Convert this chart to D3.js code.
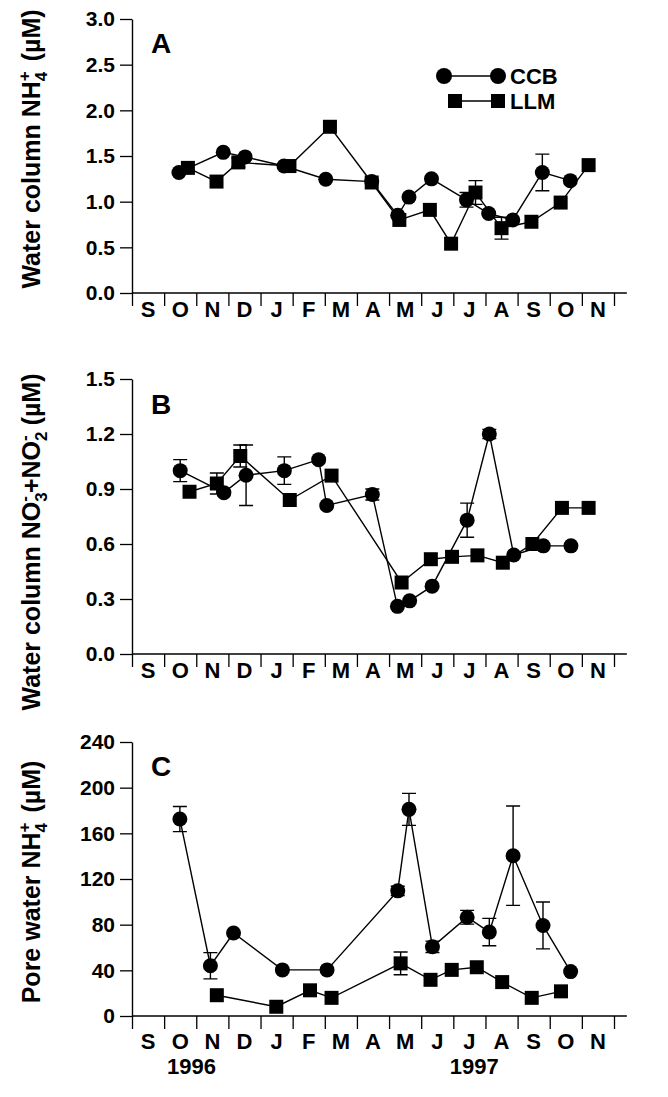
<!DOCTYPE html>
<html><head><meta charset="utf-8">
<script src="https://cdn.jsdelivr.net/npm/d3@7"></script>
<style>
body{margin:0;background:#fff}
svg text{font-family:"Liberation Sans",Arial,sans-serif;font-weight:bold;fill:#000}
</style>
</head><body>
<svg id="c" width="668" height="1097"></svg>
<script>
// ---------- DATA (x in months since 1 Sep 1996, value, optional error) ----------
const months = ["S","O","N","D","J","F","M","A","M","J","J","A","S","O","N"];
const yearLabels = ["1996","1997"];
const yearMonthPos = [1.85, 10.65];
const seriesNames = ["CCB","LLM"];

const aTicks = [0,0.5,1.0,1.5,2.0,2.5,3.0];
const bTicks = [0,0.3,0.6,0.9,1.2,1.5];
const cTicks = [0,40,80,120,160,200,240];

const aCCB = [[1.46,1.32],[2.84,1.54],[3.52,1.49],[4.73,1.39],[6.03,1.245],[7.46,1.22],[8.27,0.85],[8.62,1.05],[9.32,1.25],[10.41,1.02,0.08],[11.10,0.87],[11.85,0.80],[12.77,1.32,0.20],[13.64,1.23]];
const aLLM = [[1.74,1.37],[2.63,1.22],[3.31,1.43,0.05],[4.90,1.39],[6.16,1.82],[7.46,1.21],[8.32,0.80],[9.27,0.91],[9.93,0.54],[10.69,1.10,0.13],[11.50,0.71,0.12],[12.43,0.78],[13.34,0.99],[14.21,1.40]];

const bCCB = [[1.50,1.00,0.06],[2.86,0.88],[3.55,0.975,0.165],[4.74,1.00,0.075],[5.81,1.06],[6.06,0.81],[7.48,0.87,0.03],[8.26,0.26],[8.64,0.29],[9.34,0.37],[10.43,0.73,0.093],[11.12,1.20,0.025],[11.88,0.54],[12.80,0.59],[13.66,0.59]];
const bLLM = [[1.79,0.885],[2.64,0.93,0.057],[3.37,1.08,0.06],[4.91,0.84],[6.21,0.973],[8.39,0.39],[9.30,0.517],[9.96,0.53],[10.75,0.538],[11.54,0.498],[12.46,0.60],[13.38,0.797],[14.21,0.797]];

const cCCB = [[1.49,172.5,11],[2.44,44,11.5],[3.16,72.7],[4.68,40.4],[6.07,40.4],[8.27,109.6,4],[8.62,181,14],[9.35,60.6,5],[10.43,86.5,6],[11.12,73.5,12],[11.86,140.4,43.5],[12.79,79.3,20.5],[13.65,38.9]];
const cLLM = [[2.64,18.2],[4.49,8.1],[5.54,22.5],[6.21,15.9],[8.36,46.1,10],[9.29,31.7],[9.95,40.4],[10.73,42.7],[11.52,29.7],[12.44,15.9],[13.35,21.6]];

const aTitle = [["Water column NH","n"],["4","sub"],["+","sup"],[" (\u00B5M)","n"]];
const bTitle = [["Water column NO","n"],["3","sub"],["-","sup"],["+NO","n"],["2","sub"],["-","sup"],[" (\u00B5M)","n"]];
const cTitle = [["Pore water NH","n"],["4","sub"],["+","sup"],[" (\u00B5M)","n"]];

// ---------- LAYOUT ----------
const svg = d3.select("#c");
const x = d3.scaleLinear().domain([0,15]).range([132,614]);
const panels = [
  {ccb:aCCB, llm:aLLM, ticks:aTicks, fmt:d3.format(".1f"), domain:[0,3],   range:[293,19],  letter:"A", letterY:53,  title:aTitle, titleY:149, labOff:24, legend:true},
  {ccb:bCCB, llm:bLLM, ticks:bTicks, fmt:d3.format(".1f"), domain:[0,1.5], range:[654,379], letter:"B", letterY:414, title:bTitle, titleY:542, labOff:24},
  {ccb:cCCB, llm:cLLM, ticks:cTicks, fmt:d3.format("d"),   domain:[0,240], range:[1016,742],letter:"C", letterY:776, title:cTitle, titleY:882, labOff:33, years:true}
];

function drawTitle(parts, cx, cy){
  const t = svg.append("text").attr("transform",`translate(${cx},${cy}) rotate(-90)`)
     .attr("text-anchor","middle").style("font-size","25px");
  let cur = 0, lastSubW = 0;
  parts.forEach(([s,k])=>{
    const ts = t.append("tspan").text(s);
    if(k==="sub"){ ts.attr("dy", 7-cur).style("font-size","17px"); cur=7; lastSubW=9.5; }
    else if(k==="sup"){ ts.attr("dy", -10-cur).attr("dx",-lastSubW).style("font-size","17px"); cur=-10; }
    else { ts.attr("dy", -cur); if(cur!==0) ts.attr("dx", 3); cur=0; }
  });
}

panels.forEach(p=>{
  const y = d3.scaleLinear().domain(p.domain).range(p.range);
  const y0 = p.range[0];
  const g = svg.append("g");

  // y axis
  const ya = g.append("g").attr("transform","translate(132,0)")
    .call(d3.axisLeft(y).tickValues(p.ticks).tickSize(12).tickSizeOuter(0).tickFormat(p.fmt).tickPadding(5));
  ya.select(".domain").attr("stroke","#000").attr("stroke-width",1.4);
  ya.selectAll(".tick line").attr("stroke","#000").attr("stroke-width",1.3);
  ya.selectAll(".tick text").style("font-size","21px").attr("font-family",null);

  // x axis
  const xa = g.append("g").attr("transform",`translate(0,${y0})`)
    .call(d3.axisBottom(x).tickValues(d3.range(16)).tickSize(13).tickSizeOuter(0).tickFormat(""));
  xa.select(".domain").remove();
  xa.selectAll(".tick line").attr("stroke","#000").attr("stroke-width",1.3);
  g.append("line").attr("x1",132).attr("x2",x(15.4)).attr("y1",y0).attr("y2",y0)
    .attr("stroke","#000").attr("stroke-width",1.4);

  g.selectAll(".mlab").data(months).join("text")
    .attr("x",(d,i)=>x(i+0.5)).attr("y",y0+p.labOff).attr("text-anchor","middle")
    .style("font-size","22px").text(d=>d);

  if(p.years){
    g.selectAll(".ylab").data(yearLabels).join("text")
      .attr("x",(d,i)=>x(yearMonthPos[i])).attr("y",y0+p.labOff+25).attr("text-anchor","middle")
      .style("font-size","22px").text(d=>d);
  }

  // letter
  g.append("text").attr("x",151).attr("y",p.letterY).style("font-size","28px").text(p.letter);

  // title
  drawTitle(p.title, 40, p.titleY);

  const line = d3.line().x(d=>x(d[0])).y(d=>y(d[1]));
  [p.ccb, p.llm].forEach(s=>{
    g.append("path").attr("d",line(s)).attr("fill","none").attr("stroke","#000").attr("stroke-width",1.4);
  });
  [p.ccb, p.llm].forEach(s=>{
    s.filter(d=>d[2]).forEach(d=>{
      const xx=x(d[0]), t=y(d[1]+d[2]), b=y(d[1]-d[2]);
      g.append("path").attr("d",`M${xx},${t}V${b}M${xx-7},${t}H${xx+7}M${xx-7},${b}H${xx+7}`)
        .attr("stroke","#000").attr("stroke-width",1.4).attr("fill","none");
    });
  });
  g.selectAll(".sq").data(p.llm).join("rect")
    .attr("x",d=>x(d[0])-7).attr("y",d=>y(d[1])-7).attr("width",14).attr("height",14).attr("fill","#000");
  g.selectAll(".ci").data(p.ccb).join("circle")
    .attr("cx",d=>x(d[0])).attr("cy",d=>y(d[1])).attr("r",7.5).attr("fill","#000");

  if(p.legend){
    const L = g.append("g");
    L.append("line").attr("x1",444).attr("x2",498).attr("y1",76).attr("y2",76).attr("stroke","#000").attr("stroke-width",1.4);
    L.append("circle").attr("cx",444).attr("cy",76).attr("r",8);
    L.append("circle").attr("cx",498).attr("cy",76).attr("r",8);
    L.append("line").attr("x1",455).attr("x2",498).attr("y1",101).attr("y2",101).attr("stroke","#000").attr("stroke-width",1.4);
    L.append("rect").attr("x",448).attr("y",94).attr("width",14).attr("height",14);
    L.append("rect").attr("x",491).attr("y",94).attr("width",14).attr("height",14);
    L.append("text").attr("x",510).attr("y",84).style("font-size","22px").text(seriesNames[0]);
    L.append("text").attr("x",510).attr("y",109).style("font-size","22px").text(seriesNames[1]);
  }
});
</script>
</body></html>
